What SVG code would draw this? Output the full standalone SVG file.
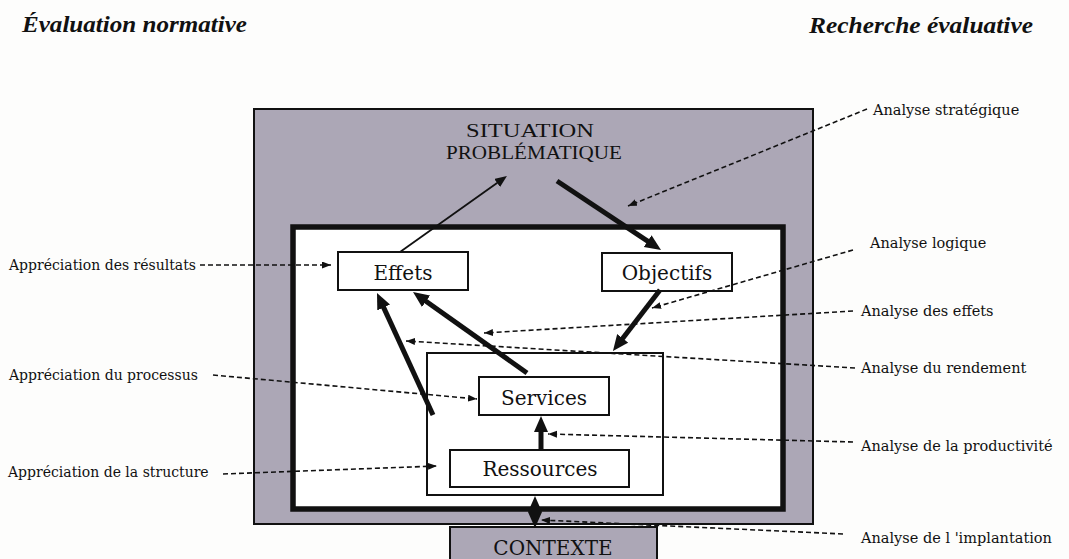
<svg xmlns="http://www.w3.org/2000/svg" width="1069" height="559" viewBox="0 0 1069 559">
  <style>
    .head { font-family: "Liberation Serif", "Times New Roman", serif; font-weight: bold; font-style: italic; font-size: 24px; fill: #111; }
    .lbl { font-family: "DejaVu Serif", "Liberation Serif", serif; font-size: 14px; fill: #111; }
    .lblr { font-family: "DejaVu Serif", "Liberation Serif", serif; font-size: 14.5px; fill: #111; }
    .node { font-family: "DejaVu Serif", "Liberation Serif", serif; font-size: 20px; fill: #111; text-anchor: middle; }
    .caps { font-family: "Liberation Serif", "Times New Roman", serif; font-size: 19px; fill: #111; }
    .grey { fill: #aca7b6; stroke: #111; stroke-width: 2; }
    .box { fill: #fff; stroke: #111; stroke-width: 2; }
    .dash { fill: none; stroke: #111; stroke-width: 1.6; stroke-dasharray: 5 3; marker-end: url(#tipS); }
    .thick { fill: none; stroke: #111; stroke-width: 5; marker-end: url(#tipL); }
    .thin { fill: none; stroke: #111; stroke-width: 1.8; marker-end: url(#tipM); }
  </style>
  <defs>
    <marker id="tipS" markerUnits="userSpaceOnUse" markerWidth="10" markerHeight="8" refX="9" refY="3.5" orient="auto">
      <path d="M0,0 L9,3.5 L0,7 z" fill="#111"/>
    </marker>
    <marker id="tipM" markerUnits="userSpaceOnUse" markerWidth="13" markerHeight="11" refX="2" refY="5" orient="auto">
      <path d="M0,0 L12,5 L0,10 z" fill="#111"/>
    </marker>
    <marker id="tipL" markerUnits="userSpaceOnUse" markerWidth="17" markerHeight="15" refX="4" refY="7" orient="auto-start-reverse">
      <path d="M0,0 L16,7 L0,14 z" fill="#111"/>
    </marker>
  </defs>

  <rect width="1069" height="559" fill="#fdfdfc"/>

  <!-- column headings -->
  <text class="head" x="22" y="32" textLength="225" lengthAdjust="spacingAndGlyphs">Évaluation normative</text>
  <text class="head" x="809" y="33" textLength="224" lengthAdjust="spacingAndGlyphs">Recherche évaluative</text>

  <!-- problem situation frame -->
  <g id="situation">
    <rect class="grey" x="254" y="109" width="559" height="415"/>
    <text class="caps" x="466" y="137" textLength="128" lengthAdjust="spacingAndGlyphs">SITUATION</text>
    <text class="caps" x="446" y="159" textLength="176" lengthAdjust="spacingAndGlyphs">PROBLÉMATIQUE</text>
  </g>

  <!-- programme frame -->
  <g id="programme">
    <rect x="293" y="227" width="490" height="282" fill="#fff" stroke="#111" stroke-width="5.5"/>
  </g>

  <g id="structure">
    <rect class="box" x="427" y="353" width="236" height="142"/>
  </g>

  <g id="effets">
    <rect class="box" x="338" y="252" width="130" height="38"/>
    <text class="node" x="403" y="280">Effets</text>
  </g>

  <g id="objectifs">
    <rect class="box" x="602" y="253" width="130" height="38"/>
    <text class="node" x="667" y="280">Objectifs</text>
  </g>

  <g id="services">
    <rect class="box" x="479" y="377" width="130" height="38"/>
    <text class="node" x="544" y="405">Services</text>
  </g>

  <g id="ressources">
    <rect class="box" x="450" y="450" width="179" height="37"/>
    <text class="node" x="540" y="476">Ressources</text>
  </g>

  <g id="contexte">
    <rect class="grey" x="450" y="527" width="207" height="40"/>
    <text class="node" x="553" y="555" font-size="22">CONTEXTE</text>
  </g>

  <!-- side labels -->
  <g id="labels-left">
    <text class="lbl" x="9" y="270">Appréciation des résultats</text>
    <text class="lbl" x="9" y="380">Appréciation du processus</text>
    <text class="lbl" x="8" y="477">Appréciation de la structure</text>
  </g>
  <g id="labels-right">
    <text class="lblr" x="873" y="115">Analyse stratégique</text>
    <text class="lblr" x="870" y="248">Analyse logique</text>
    <text class="lblr" x="861" y="316">Analyse des effets</text>
    <text class="lblr" x="861" y="373">Analyse du rendement</text>
    <text class="lblr" x="861" y="451">Analyse de la productivité</text>
    <text class="lblr" x="861" y="543">Analyse de l 'implantation</text>
  </g>

  <g id="connectors">
    <!-- causal flow -->
    <path class="thin" d="M400,252 L498.8,181.8"/>
    <path class="thick" d="M557,181 L651,243.4"/>
    <path class="thick" d="M660,290 L620.3,341.5"/>
    <path class="thick" d="M527,373 L422.8,299"/>
    <path class="thick" d="M433,415 L382,303.9"/>
    <path class="thick" d="M541,450 L541,428"/>
    <path class="thick" d="M535,508 L535,516" marker-start="url(#tipL)"/>

    <!-- evaluation pointers -->
    <path class="dash" d="M200,265 L331,265"/>
    <path class="dash" d="M213,375 L477,399"/>
    <path class="dash" d="M223,474 L437,466"/>
    <path class="dash" d="M867,109 L628,206"/>
    <path class="dash" d="M853,250 L652,308"/>
    <path class="dash" d="M853,311 L484,333"/>
    <path class="dash" d="M855,368 L406,341"/>
    <path class="dash" d="M853,442 L548,434"/>
    <path class="dash" d="M843,534 L541,520"/>
  </g>
</svg>
